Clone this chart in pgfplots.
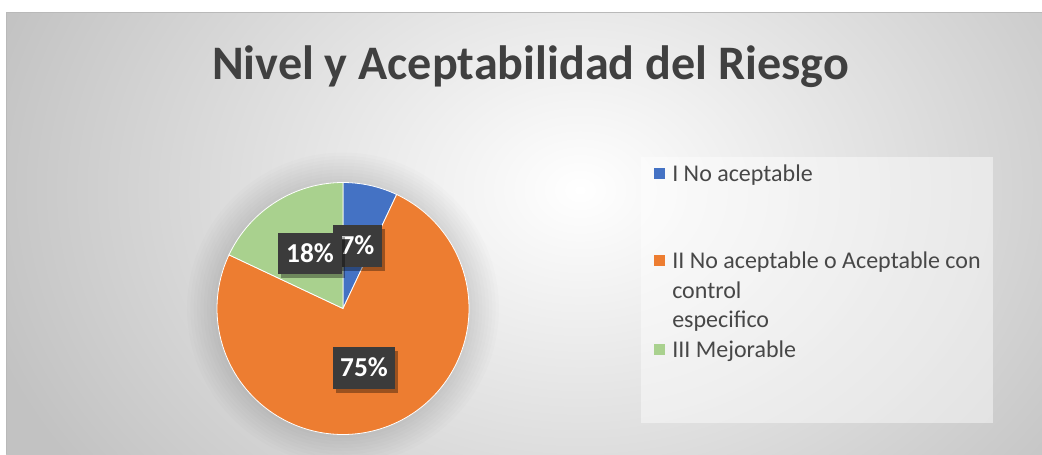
\documentclass[border=0pt]{standalone}
\usepackage{pgfplots}
\usepackage{pgfplotstable}
\pgfplotsset{compat=1.18}
\usepackage{fontspec}
\setmainfont{Carlito}
\definecolor{pieblue}{HTML}{4472C4}
\definecolor{pieorange}{HTML}{ED7D31}
\definecolor{piegreen}{HTML}{A9D18E}
\definecolor{titlegray}{HTML}{404040}
\definecolor{leggray}{HTML}{474747}
\definecolor{bgedge}{HTML}{C2C2C2}
\definecolor{lblbox}{HTML}{3B3B3B}

\pgfplotstableread{
serie pct
1 7
2 75
3 18
}\piedata

\begin{document}%
\pgfplotstablegetelem{0}{pct}\of\piedata\let\pA\pgfplotsretval%
\pgfplotstablegetelem{1}{pct}\of\piedata\let\pB\pgfplotsretval%
\pgfplotstablegetelem{2}{pct}\of\piedata\let\pC\pgfplotsretval%
\pgfmathsetmacro{\aZero}{90}%
\pgfmathsetmacro{\aOne}{90-3.6*\pA}%
\pgfmathsetmacro{\aTwo}{\aOne-3.6*\pB}%
\pgfmathsetmacro{\aThree}{\aTwo-3.6*\pC}%
\begin{tikzpicture}
\begin{axis}[
  width=781.5pt, height=340.5pt, scale only axis,
  xmin=0, xmax=1042, ymin=0, ymax=454, y dir=reverse,
  hide axis, clip=true,
]
% page background
\fill[white] (axis cs:0,0) rectangle (axis cs:1042,454);
% chart area with radial gradient
\begin{scope}
\clip (axis cs:6,12) rectangle (axis cs:1042,454);
\shade[inner color=white, outer color=bgedge] (axis cs:-40,-290) rectangle (axis cs:1200,670);
\end{scope}
\draw[gray!55, line width=0.75pt] (axis cs:6,454) -- (axis cs:6,12.5) -- (axis cs:1042,12.5);
% title
\node[anchor=base, text=titlegray, font=\fontsize{36.1}{42}\selectfont\bfseries] at (axis cs:530.5,79) {Nivel y Aceptabilidad del Riesgo};
% pie glow
\fill[black, opacity=0.012] (axis cs:343,308.5) circle[radius=117pt];
\fill[black, opacity=0.012] (axis cs:343,308.5) circle[radius=114.5pt];
\fill[black, opacity=0.012] (axis cs:343,308.5) circle[radius=112pt];
\fill[black, opacity=0.012] (axis cs:343,308.5) circle[radius=109.5pt];
\fill[black, opacity=0.012] (axis cs:343,308.5) circle[radius=107pt];
\fill[black, opacity=0.012] (axis cs:343,308.5) circle[radius=104.5pt];
\fill[black, opacity=0.012] (axis cs:343,308.5) circle[radius=102pt];
\fill[black, opacity=0.012] (axis cs:343,308.5) circle[radius=99.5pt];
\fill[black, opacity=0.012] (axis cs:343,308.5) circle[radius=97pt];
% slices
\addplot[fill=pieblue, draw=white, line width=0.6pt, domain=\aOne:\aZero, samples=40, variable=\t]
  ({343+126*cos(\t)},{308.5-126*sin(\t)}) -- (axis cs:343,308.5) -- cycle;
\addplot[fill=pieorange, draw=white, line width=0.6pt, domain=\aTwo:\aOne, samples=150, variable=\t]
  ({343+126*cos(\t)},{308.5-126*sin(\t)}) -- (axis cs:343,308.5) -- cycle;
\addplot[fill=piegreen, draw=white, line width=0.6pt, domain=\aThree:\aTwo, samples=60, variable=\t]
  ({343+126*cos(\t)},{308.5-126*sin(\t)}) -- (axis cs:343,308.5) -- cycle;
% data labels
\fill[black, opacity=0.35] (axis cs:336,229) rectangle (axis cs:385,271);
\fill[lblbox] (axis cs:333,225) rectangle (axis cs:382,267);
\node[anchor=base, text=white, font=\fontsize{20.5}{24}\selectfont\bfseries] at (axis cs:357.5,254) {\pA\%};
\fill[black, opacity=0.35] (axis cs:281,237) rectangle (axis cs:345,278);
\fill[lblbox] (axis cs:278,233) rectangle (axis cs:342,274);
\node[anchor=base, text=white, font=\fontsize{20.5}{24}\selectfont\bfseries] at (axis cs:310,262) {\pC\%};
\fill[black, opacity=0.35] (axis cs:336,351) rectangle (axis cs:398,393);
\fill[lblbox] (axis cs:333,347) rectangle (axis cs:395,389);
\node[anchor=base, text=white, font=\fontsize{20.5}{24}\selectfont\bfseries] at (axis cs:364,376) {\pB\%};
% legend
\fill[white, opacity=0.45] (axis cs:641,157) rectangle (axis cs:993,423);
\fill[pieblue] (axis cs:654,168) rectangle (axis cs:665,179);
\fill[pieorange] (axis cs:654,255) rectangle (axis cs:665,266);
\fill[piegreen] (axis cs:654,344) rectangle (axis cs:665,355);
\node[anchor=base west, inner sep=0pt, text=leggray, font=\fontsize{18}{21}\selectfont] at (axis cs:672,181) {I No aceptable};
\node[anchor=base west, inner sep=0pt, text=leggray, font=\fontsize{18}{21}\selectfont] at (axis cs:672,268) {II No aceptable o Aceptable con};
\node[anchor=base west, inner sep=0pt, text=leggray, font=\fontsize{18}{21}\selectfont] at (axis cs:672,298) {control};
\node[anchor=base west, inner sep=0pt, text=leggray, font=\fontsize{18}{21}\selectfont] at (axis cs:672,327) {especifico};
\node[anchor=base west, inner sep=0pt, text=leggray, font=\fontsize{18}{21}\selectfont] at (axis cs:672,357) {III Mejorable};
\end{axis}
\end{tikzpicture}%
\end{document}
